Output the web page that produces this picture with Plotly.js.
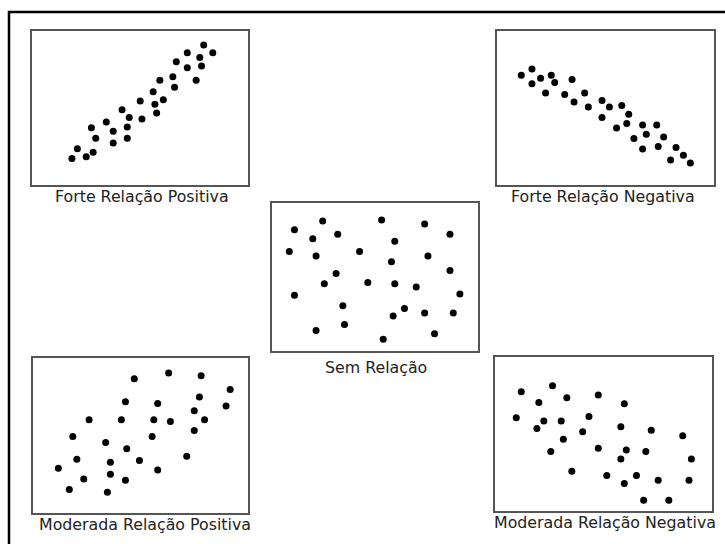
<!DOCTYPE html>
<html>
<head>
<meta charset="utf-8">
<script src="https://cdn.plot.ly/plotly-3.0.1.min.js"></script>
<style>html,body{margin:0;padding:0;background:#fff;}#chart{width:725px;height:544px;}</style>
</head>
<body>
<div id="chart"></div>
<script>
// Forte Relação Positiva
const strongPosX = [18.5,21.0,25.1,28.3,29.5,27.5,34.4,37.6,37.6,44.1,44.1,45.0,41.7,50.9,50.1,56.1,56.9,57.7,60.8,59.2,65.2,66.0,66.8,71.9,71.9,76.0,77.7,78.5,79.5,83.7];
const strongPosY = [17.2,23.5,18.3,21.3,30.4,37.1,40.9,34.9,27.2,30.4,37.7,43.8,48.9,42.9,54.5,60.6,52.4,46.8,55.4,68.1,70.3,63.4,80.0,76.1,85.8,68.1,82.8,77.2,90.9,85.8];
// Forte Relação Negativa
const strongNegX = [11.2,16.1,16.1,20.1,22.4,25.0,26.6,34.6,31.2,35.5,40.4,42.1,48.4,51.8,48.4,57.5,60.7,55.1,59.8,67.1,73.6,68.8,63.1,76.8,67.1,74.3,82.5,85.9,80.0,89.1];
const strongNegY = [71.3,75.4,65.7,69.3,59.8,71.3,66.5,68.5,58.7,53.9,59.8,50.7,54.8,50.7,43.9,51.7,45.9,37.0,40.0,38.9,38.9,33.0,30.2,31.1,23.3,25.0,24.3,19.3,16.3,14.3];
// Sem Relação
const noneX = [10.9,24.6,19.8,31.9,53.2,74.1,86.4,59.6,8.4,21.4,42.5,58.0,75.7,86.4,31.1,25.4,46.5,59.6,70.0,91.2,10.9,34.4,64.3,58.8,74.1,88.0,35.2,21.4,54.0,78.9];
const noneY = [81.9,87.8,75.9,78.9,88.5,85.8,78.9,74.1,67.2,64.2,67.2,60.3,64.2,54.4,52.3,45.4,46.3,45.4,43.3,38.5,37.6,30.5,28.7,23.6,25.7,25.7,17.9,13.8,8.0,11.7];
// Moderada Relação Positiva
const modPosX = [47.1,63.1,78.2,91.7,77.4,89.8,43.0,58.0,26.1,41.1,56.2,63.9,75.0,79.8,75.0,18.5,33.8,55.4,43.6,20.4,36.0,49.5,71.5,11.8,58.0,23.6,36.0,43.0,16.9,34.6];
const modPosY = [86.6,90.3,88.6,79.7,74.8,69.0,71.8,70.7,60.1,60.1,60.1,59.1,65.9,60.1,53.2,49.4,45.5,49.4,41.4,34.7,32.8,33.8,36.6,28.9,27.8,22.0,25.0,21.1,15.1,13.4];
// Moderada Relação Negativa
const modNegX = [12.1,26.5,20.2,33.1,47.6,59.6,9.8,22.5,19.3,30.5,43.3,40.4,31.5,58.0,72.0,86.5,25.7,47.6,60.5,69.5,58.0,90.5,35.4,51.5,65.2,59.6,75.2,89.4,68.5,80.1];
const modNegY = [77.5,81.4,70.5,73.5,75.3,69.6,60.6,58.4,53.6,58.4,61.3,51.4,46.6,54.7,52.5,48.8,38.7,40.7,39.6,38.7,33.7,33.7,25.8,23.0,23.0,17.9,19.9,19.9,7.0,7.0];

const labels = ["Forte Relação Positiva","Forte Relação Negativa","Sem Relação","Moderada Relação Positiva","Moderada Relação Negativa"];
const seriesX = [strongPosX, strongNegX, noneX, modPosX, modNegX];
const seriesY = [strongPosY, strongNegY, noneY, modPosY, modNegY];

const W = 725, H = 544;
// panel boxes in pixels: [left, right, top, bottom]
const boxes = [[32,248,31,185],[497,714,31,185],[272,478,203,351],[33,248,358,513],[495,712,357,511]];
const labelPos = [[142,197],[603,197],[376,367],[145,524],[605,522]];

const traces = [];
const layout = {
  width: W, height: H,
  margin: {l:0,r:0,t:0,b:0},
  paper_bgcolor: '#ffffff', plot_bgcolor: '#ffffff',
  showlegend: false,
  font: {family: 'DejaVu Sans, Verdana, sans-serif', color: '#222'},
  annotations: [],
  shapes: [{type:'rect', xref:'paper', yref:'paper', x0: 9/W, x1: 1.05, y0: -0.05, y1: 1-12/H, line:{color:'#000', width:2.5}, layer:'above'}]
};

boxes.forEach((b, i) => {
  const n = i === 0 ? '' : String(i+1);
  traces.push({
    x: seriesX[i], y: seriesY[i], type: 'scatter', mode: 'markers',
    xaxis: 'x' + n, yaxis: 'y' + n,
    marker: {color: '#000', size: 7},
    hoverinfo: 'skip'
  });
  const ax = {range:[0,100], showgrid:false, zeroline:false, showticklabels:false, ticks:'', showline:true, mirror:true, linecolor:'#555', linewidth:2, fixedrange:true};
  layout['xaxis' + n] = Object.assign({}, ax, {domain:[b[0]/W, b[1]/W], anchor: 'y' + n});
  layout['yaxis' + n] = Object.assign({}, ax, {domain:[1-b[3]/H, 1-b[2]/H], anchor: 'x' + n});
  layout.annotations.push({
    text: labels[i], xref:'paper', yref:'paper', x: labelPos[i][0]/W, y: 1-labelPos[i][1]/H,
    xanchor:'center', yanchor:'middle', showarrow:false,
    font:{size:15.8, color:'#222', family:'DejaVu Sans, Verdana, sans-serif'}
  });
});

Plotly.newPlot('chart', traces, layout, {displayModeBar:false, staticPlot:true});
</script>
</body>
</html>
